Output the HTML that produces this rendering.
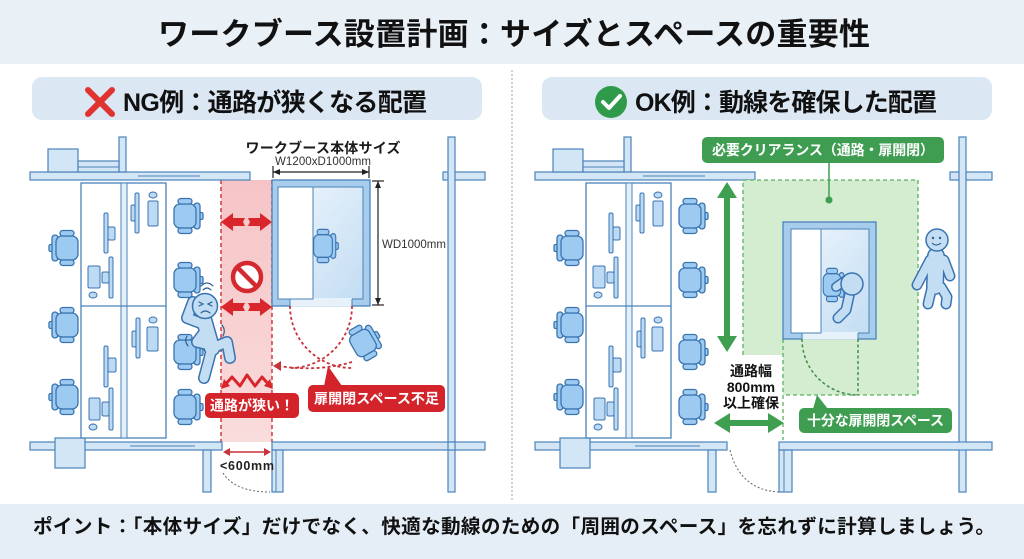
<!DOCTYPE html>
<html><head><meta charset="utf-8">
<style>
html,body{margin:0;padding:0;background:#fff;}
svg{display:block;}
text{font-family:"Liberation Sans","Noto Sans CJK JP",sans-serif;font-weight:bold;}
.w{fill:#d3e6f5;stroke:#4b83ba;stroke-width:1.2;}
.ch{fill:#9ccaf0;stroke:#3a74b0;stroke-width:1.3;}
.it{fill:#bcdaf3;stroke:#3a74b0;stroke-width:1;}
</style></head><body>
<svg width="1024" height="559" viewBox="0 0 1024 559" xmlns="http://www.w3.org/2000/svg">
<defs>
 <linearGradient id="pink" x1="0" y1="0" x2="0" y2="1"><stop offset="0" stop-color="#f6c4c6"/><stop offset="1" stop-color="#f9dcdc"/></linearGradient>
 <linearGradient id="booth" x1="0" y1="0" x2="1" y2="1"><stop offset="0" stop-color="#eef6fc"/><stop offset="1" stop-color="#c3ddf3"/></linearGradient>
 <g id="chair" class="ch">
   <rect x="-18" y="-3.5" width="4" height="7" rx="1.5"/>
   <rect x="-15" y="-13" width="6" height="26" rx="3"/>
   <rect x="-11" y="-12" width="22" height="24" rx="6"/>
   <rect x="-7" y="-17.5" width="14" height="5.5" rx="2.7"/>
   <rect x="-7" y="12" width="14" height="5.5" rx="2.7"/>
 </g>
</defs>

<!-- header / footer bands -->
<rect x="0" y="0" width="1024" height="64" fill="#e9f0f6"/>
<text x="514" y="45" font-size="31" text-anchor="middle" textLength="712" fill="#111">ワークブース設置計画：サイズとスペースの重要性</text>
<rect x="0" y="504" width="1024" height="55" fill="#e5eef6"/>
<text x="33" y="533" font-size="19.6" textLength="962" fill="#111">ポイント：「本体サイズ」だけでなく、快適な動線のための「周囲のスペース」を忘れずに計算しましょう。</text>

<!-- divider -->
<line x1="512" y1="70" x2="512" y2="500" stroke="#9aa4ad" stroke-width="1" stroke-dasharray="2 2"/>

<!-- panel titles -->
<rect x="32" y="77" width="450" height="43" rx="10" fill="#dbe7f2"/>
<rect x="542" y="77" width="450" height="43" rx="10" fill="#dbe7f2"/>
<g stroke="#e0332f" stroke-width="6" stroke-linecap="round"><line x1="88" y1="90" x2="112" y2="114"/><line x1="112" y1="90" x2="88" y2="114"/></g>
<text x="123" y="111" font-size="25" textLength="304" fill="#111">NG例：通路が狭くなる配置</text>
<circle cx="611" cy="102" r="16" fill="#2e9a4a"/>
<path d="M603,102 L609,108 L620,96" fill="none" stroke="#fff" stroke-width="4" stroke-linecap="round" stroke-linejoin="round"/>
<text x="635" y="111" font-size="25" textLength="302" fill="#111">OK例：動線を確保した配置</text>

<!-- ================= LEFT PANEL ================ -->
<!-- corridor pink -->
<rect x="221" y="180" width="51" height="262" fill="url(#pink)"/>
<g stroke="#d23a3f" stroke-width="1.5" stroke-dasharray="4 3"><line x1="221" y1="180" x2="221" y2="442"/><line x1="272" y1="180" x2="272" y2="442"/></g>

<g id="office">
 <!-- top walls -->
 <rect class="w" x="30" y="172" width="220" height="8"/>
 <line x1="138" y1="176" x2="200" y2="176" stroke="#4b83ba" stroke-width="1"/>
 <rect class="w" x="119" y="137" width="7" height="35"/>
 <rect class="w" x="48" y="149" width="30" height="23"/>
 <rect class="w" x="78" y="161" width="41" height="11"/>
 <line x1="78" y1="167" x2="119" y2="167" stroke="#4b83ba" stroke-width="1"/>
 <!-- bottom walls -->
 <rect class="w" x="30" y="442" width="192" height="8"/>
 <line x1="130" y1="446" x2="195" y2="446" stroke="#4b83ba" stroke-width="1"/>
 <rect class="w" x="55" y="438" width="30" height="30"/>
 <rect class="w" x="203" y="450" width="8" height="42"/>
 <!-- desks -->
 <rect x="81" y="183" width="85" height="255" fill="#fff" stroke="#4b83ba" stroke-width="1.3"/>
 <rect x="121" y="183" width="6" height="255" fill="#e3eff9" stroke="#4b83ba" stroke-width="1"/>
 <line x1="81" y1="306" x2="166" y2="306" stroke="#4b83ba" stroke-width="1.3"/>
 <g class="it">
  <rect x="135" y="193" width="4" height="40" rx="1.5"/><rect x="131" y="205" width="4" height="16" rx="1.5"/>
  <rect x="148" y="201" width="10" height="25" rx="1.5"/><ellipse cx="153" cy="195" rx="4" ry="3"/>
  <rect x="104" y="213" width="4" height="40" rx="1.5"/><rect x="108" y="227" width="7" height="13" rx="1.5"/>
  <rect x="109" y="257" width="4" height="41" rx="1.5"/><rect x="102" y="272" width="7" height="11" rx="1.5"/>
  <rect x="88" y="266" width="12" height="22" rx="1.5"/><ellipse cx="93" cy="295" rx="4" ry="3"/>
  <rect x="136" y="318" width="4" height="40" rx="1.5"/><rect x="132" y="331" width="4" height="16" rx="1.5"/>
  <rect x="147" y="327" width="11" height="24" rx="1.5"/><ellipse cx="153" cy="320" rx="4" ry="3"/>
  <rect x="104" y="346" width="4" height="41" rx="1.5"/><rect x="108" y="358" width="8" height="14" rx="1.5"/>
  <rect x="109" y="388" width="4" height="42" rx="1.5"/><rect x="102" y="402" width="7" height="14" rx="1.5"/>
  <rect x="89" y="398" width="11" height="22" rx="1.5"/><ellipse cx="93" cy="427" rx="4" ry="3"/>
 </g>
 <!-- chairs -->
 <use href="#chair" transform="translate(67,248)"/>
 <use href="#chair" transform="translate(67,325)"/>
 <use href="#chair" transform="translate(67,397)"/>
 <use href="#chair" transform="translate(185,216) scale(-1,1)"/>
 <use href="#chair" transform="translate(185,280) scale(-1,1)"/>
 <use href="#chair" transform="translate(185,352) scale(-1,1)"/>
 <use href="#chair" transform="translate(185,407) scale(-1,1)"/>
</g>

<!-- left panel right walls -->
<rect class="w" x="443" y="172" width="42" height="8"/>
<rect class="w" x="448" y="137" width="7" height="355"/>
<rect class="w" x="272" y="442" width="213" height="8"/>
<rect class="w" x="448" y="442" width="7" height="8" stroke="none"/>
<rect class="w" x="272" y="450" width="11" height="42"/>
<line x1="276" y1="450" x2="276" y2="492" stroke="#4b83ba" stroke-width="1"/>
<path d="M223,473 Q235,492 270,492" fill="none" stroke="#666" stroke-width="1" stroke-dasharray="2 2"/>

<!-- red arrows -->
<g fill="#d9262c">
 <polygon points="221,222 233,213 233,218 245,218 243,222 245,226 233,226 233,231"/>
 <polygon points="272,222 260,213 260,218 248,218 250,222 248,226 260,226 260,231"/>
 <polygon points="221,307 233,298 233,303 245,303 243,307 245,311 233,311 233,316"/>
 <polygon points="272,307 260,298 260,303 248,303 250,307 248,311 260,311 260,316"/>
</g>
<circle cx="247" cy="277" r="14" fill="#fff" stroke="#d42a2f" stroke-width="4.5"/>
<line x1="237.5" y1="267.5" x2="256.5" y2="286.5" stroke="#d42a2f" stroke-width="4.5"/>
<!-- burst -->
<polyline points="224,386 232,377 240,386 247,375 255,386 262,377 270,386" fill="none" stroke="#d9262c" stroke-width="3" stroke-linejoin="round"/>
<polygon points="221,389 224,379 230,386" fill="#d9262c"/>
<polygon points="273,389 270,379 264,386" fill="#d9262c"/>

<!-- booth left -->
<rect x="272" y="180" width="98" height="126" fill="#a8cdec" stroke="#4a82ba" stroke-width="1.3"/>
<rect x="278" y="187" width="85" height="112" fill="url(#booth)" stroke="#4a82ba" stroke-width="1"/>
<rect x="290" y="298" width="62" height="8.5" fill="#e6f1fa"/>
<line x1="290" y1="299" x2="290" y2="306" stroke="#4a82ba" stroke-width="1"/>
<line x1="352" y1="299" x2="352" y2="306" stroke="#4a82ba" stroke-width="1"/>
<rect x="278" y="187" width="35" height="112" fill="#fff" stroke="#4a82ba" stroke-width="1"/>
<use href="#chair" transform="translate(323,246) scale(-0.85,0.95)"/>

<!-- door arcs red -->
<g fill="none" stroke="#c8323a" stroke-width="1.8" stroke-dasharray="3 2.5">
 <path d="M290,306 A62,62 0 0 0 352,368"/>
 <path d="M352,306 A62,62 0 0 1 290,368"/>
 <path d="M352,362 Q318,372 278,366"/>
</g>
<polygon points="273,366 281,361 281,371" fill="#c8323a"/>
<use href="#chair" transform="translate(363,343) rotate(-30) scale(-1,1)"/>

<!-- dimension -->
<text x="323" y="153" font-size="14" text-anchor="middle" textLength="155" fill="#1a1a1a">ワークブース本体サイズ</text>
<text x="323" y="165" font-size="11.5" font-weight="normal" style="font-weight:normal" text-anchor="middle" textLength="96" fill="#333">W1200xD1000mm</text>
<g stroke="#222" stroke-width="1.2">
 <line x1="273" y1="172" x2="369" y2="172"/>
 <line x1="273" y1="166" x2="273" y2="178"/><line x1="369" y1="166" x2="369" y2="178"/>
 <line x1="378" y1="181" x2="378" y2="305"/>
 <line x1="372" y1="181" x2="384" y2="181"/><line x1="372" y1="305" x2="384" y2="305"/>
</g>
<g fill="#222">
 <polygon points="273,172 280,169 280,175"/><polygon points="369,172 362,169 362,175"/>
 <polygon points="378,181 375,188 381,188"/><polygon points="378,305 375,298 381,298"/>
</g>
<text x="382" y="248" font-size="11.5" style="font-weight:normal" textLength="64" fill="#333">WD1000mm</text>

<!-- <600mm -->
<line x1="226" y1="452" x2="268" y2="452" stroke="#c8323a" stroke-width="1.5"/>
<polygon points="223,452 230,448 230,456" fill="#c8323a"/><polygon points="271,452 264,448 264,456" fill="#c8323a"/>
<text x="220" y="470" font-size="12.5" textLength="54" fill="#222">&lt;600mm</text>

<!-- stressed person -->
<g fill="none" stroke-linecap="round" stroke-linejoin="round">
 <g stroke="#3a74b0" stroke-width="12">
  <path d="M212,348 L204,378"/><path d="M212,348 L227,342 L230,358"/>
  <path d="M203,324 L187,318 L193,302"/><path d="M206,330 L197,342 L214,346"/>
 </g>
 <path d="M204,320 L212,348" stroke="#3a74b0" stroke-width="17"/>
 <g stroke="#c3ddf3" stroke-width="9">
  <path d="M212,348 L204,378"/><path d="M212,348 L227,342 L230,358"/>
  <path d="M203,324 L187,318 L193,302"/><path d="M206,330 L197,342 L214,346"/>
 </g>
 <path d="M204,320 L212,348" stroke="#c3ddf3" stroke-width="14"/>
</g>
<circle cx="205" cy="306" r="12.5" fill="#c3ddf3" stroke="#3a74b0" stroke-width="1.5"/>
<g fill="none" stroke="#2d5f95" stroke-width="1.2" stroke-linecap="round">
 <path d="M199,302 L203,304 L199,306"/><path d="M212,302 L208,304 L212,306"/>
 <path d="M201,313 Q205,309 210,313"/>
 <path d="M203,290 Q207,286 211,290"/><path d="M201,286 Q207,280 213,286"/>
 <path d="M222,325 Q226,330 223,336"/><path d="M187,336 Q184,341 188,346"/>
</g>

<!-- red labels -->
<rect x="205" y="393" width="94" height="25" rx="5" fill="#d3242b"/>
<text x="252" y="410.5" font-size="14" text-anchor="middle" fill="#fff">通路が狭い！</text>
<polygon points="324,386 328,366 342,386" fill="#d3242b"/>
<rect x="308" y="385" width="137" height="27" rx="5" fill="#d3242b"/>
<text x="376.5" y="403.5" font-size="14" text-anchor="middle" textLength="125" fill="#fff">扉開閉スペース不足</text>

<!-- ================= RIGHT PANEL ================ -->
<use href="#office" transform="translate(505,0)"/>
<rect class="w" x="950" y="172" width="42" height="8"/>
<rect class="w" x="959" y="137" width="7" height="355"/>
<rect class="w" x="779" y="442" width="213" height="8"/>
<rect class="w" x="779" y="450" width="13" height="42"/>
<line x1="784" y1="450" x2="784" y2="492" stroke="#4b83ba" stroke-width="1"/>
<rect x="959.6" y="442.6" width="5.8" height="6.8" fill="#d3e6f5"/>
<path d="M730,450 Q740,490 779,492" fill="none" stroke="#666" stroke-width="1" stroke-dasharray="2 2"/>

<!-- clearance -->
<polygon points="743,180 918,180 918,395 783,395 783,355 743,355" fill="#d4ecd0"/>
<g fill="none" stroke="#5aaf62" stroke-width="1.3" stroke-dasharray="4 3">
 <polyline points="743,355 743,180 918,180 918,395 783,395"/>
 <line x1="783" y1="339" x2="783" y2="440"/>
</g>

<!-- booth right -->
<rect x="783" y="222" width="93" height="117" fill="#a8cdec" stroke="#4a82ba" stroke-width="1.3"/>
<rect x="791" y="229" width="78" height="104" fill="url(#booth)" stroke="#4a82ba" stroke-width="1"/>
<rect x="802" y="332" width="56" height="7.5" fill="#e6f1fa"/>
<line x1="802" y1="333" x2="802" y2="339" stroke="#4a82ba" stroke-width="1"/>
<line x1="858" y1="333" x2="858" y2="339" stroke="#4a82ba" stroke-width="1"/>
<rect x="791" y="229" width="30" height="104" fill="#fff" stroke="#4a82ba" stroke-width="1"/>
<use href="#chair" transform="translate(832,285) scale(-0.8,0.95)"/>
<!-- sitting person -->
<g fill="none" stroke-linecap="round" stroke-linejoin="round">
 <path d="M850,292 L846,310 L838,318" stroke="#3a74b0" stroke-width="11"/>
 <path d="M846,280 L836,287" stroke="#3a74b0" stroke-width="10"/>
 <path d="M850,292 L846,310 L838,318" stroke="#c3ddf3" stroke-width="8"/>
 <path d="M846,280 L836,287" stroke="#c3ddf3" stroke-width="7"/>
</g>
<circle cx="852" cy="284" r="11" fill="#c3ddf3" stroke="#3a74b0" stroke-width="1.5"/>

<!-- door arc green -->
<g fill="none" stroke="#3c8f4a" stroke-width="1.5" stroke-dasharray="3 2.5">
 <path d="M802,339 A56,56 0 0 0 858,395"/>
 <line x1="858" y1="339" x2="858" y2="395"/>
</g>

<!-- standing person -->
<g fill="none" stroke-linecap="round" stroke-linejoin="round">
 <g stroke="#3a74b0" stroke-width="11">
  <path d="M930,260 L917,285"/><path d="M944,260 L950,276"/>
  <path d="M932,287 L928,304"/><path d="M941,287 L947,297 L946,304"/>
 </g>
 <path d="M936,256 L935,286" stroke="#3a74b0" stroke-width="18"/>
 <g stroke="#c3ddf3" stroke-width="8">
  <path d="M930,260 L917,285"/><path d="M944,260 L950,276"/>
  <path d="M932,287 L928,304"/><path d="M941,287 L947,297 L946,304"/>
 </g>
 <path d="M936,256 L935,286" stroke="#c3ddf3" stroke-width="15"/>
</g>
<circle cx="937" cy="240" r="11" fill="#c3ddf3" stroke="#3a74b0" stroke-width="1.5"/>
<g fill="#2d5f95"><circle cx="933" cy="238" r="1.2"/><circle cx="940" cy="238" r="1.2"/></g>
<path d="M932,243 Q936,247 941,243" fill="none" stroke="#2d5f95" stroke-width="1.1"/>

<!-- green arrows -->
<g fill="#3e9f50">
 <rect x="724" y="196" width="6" height="142"/>
 <polygon points="727,182 717,198 737,198"/><polygon points="727,352 717,336 737,336"/>
 <rect x="728" y="420" width="42" height="6"/>
 <polygon points="714,423 730,413 730,433"/><polygon points="784,423 768,413 768,433"/>
</g>
<text x="751" y="376" font-size="14" text-anchor="middle" fill="#111">通路幅</text>
<text x="751" y="392" font-size="14" text-anchor="middle" fill="#111">800mm</text>
<text x="751" y="408" font-size="14" text-anchor="middle" fill="#111">以上確保</text>

<!-- green labels -->
<line x1="829" y1="163" x2="829" y2="200" stroke="#3e9f50" stroke-width="1.5"/>
<circle cx="829" cy="200" r="3.5" fill="#3e9f50"/>
<rect x="702" y="137" width="242" height="26" rx="5" fill="#3f9d52"/>
<text x="823" y="155" font-size="14" text-anchor="middle" textLength="222" fill="#fff">必要クリアランス（通路・扉開閉）</text>
<polygon points="813,409 817,395 828,409" fill="#3f9d52"/>
<rect x="799" y="408" width="153" height="25" rx="5" fill="#3f9d52"/>
<text x="875.5" y="425.5" font-size="14" text-anchor="middle" textLength="137" fill="#fff">十分な扉開閉スペース</text>
</svg>
</body></html>
